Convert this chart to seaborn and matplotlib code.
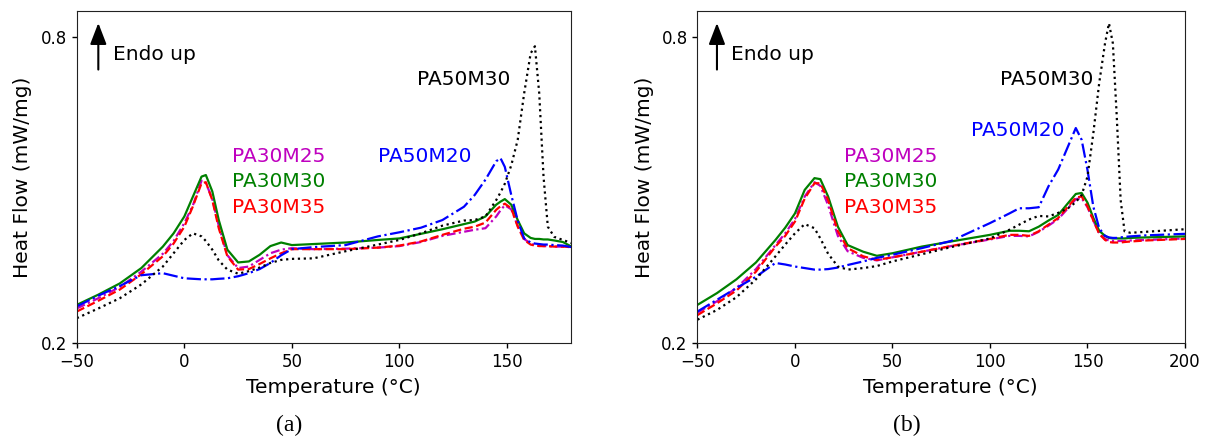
import pandas as pd
import matplotlib
matplotlib.use("Agg")
import matplotlib.pyplot as plt
import seaborn as sns

# Panel (a) - temperature grid (°C) and heat flow (mW/mg)
temp_a = [-50, -40, -30, -20, -10, -5, 0, 4, 8, 10, 13, 16, 20, 25, 30, 35, 40, 45, 50, 60,
          75, 90, 100, 110, 120, 130, 135, 140, 145, 147, 149, 152, 155, 158, 161, 163, 165,
          167, 169, 172, 176, 180]
pa30m25_a = [0.268, 0.288, 0.310, 0.340, 0.375, 0.400, 0.435, 0.470, 0.518, 0.514, 0.482, 0.430,
             0.372, 0.347, 0.350, 0.363, 0.376, 0.383, 0.386, 0.384, 0.385, 0.387, 0.390, 0.398,
             0.410, 0.418, 0.422, 0.425, 0.448, 0.460, 0.470, 0.462, 0.430, 0.404, 0.395, 0.392,
             0.391, 0.390, 0.390, 0.389, 0.389, 0.388]
pa30m30_a = [0.275, 0.295, 0.317, 0.347, 0.389, 0.415, 0.448, 0.487, 0.526, 0.529, 0.497, 0.441,
             0.383, 0.358, 0.360, 0.373, 0.390, 0.397, 0.392, 0.394, 0.397, 0.402, 0.405, 0.414,
             0.423, 0.433, 0.438, 0.448, 0.471, 0.477, 0.482, 0.471, 0.441, 0.415, 0.406, 0.404,
             0.404, 0.403, 0.403, 0.401, 0.398, 0.389]
pa30m35_a = [0.262, 0.283, 0.305, 0.335, 0.370, 0.395, 0.428, 0.468, 0.513, 0.515, 0.480, 0.425,
             0.370, 0.344, 0.345, 0.355, 0.366, 0.376, 0.384, 0.384, 0.384, 0.387, 0.391, 0.399,
             0.412, 0.424, 0.428, 0.436, 0.461, 0.468, 0.473, 0.464, 0.428, 0.402, 0.393, 0.391,
             0.390, 0.390, 0.390, 0.389, 0.389, 0.388]
pa50m20_a = [0.272, 0.293, 0.312, 0.333, 0.337, 0.332, 0.327, 0.326, 0.325, 0.325, 0.325, 0.326,
             0.327, 0.331, 0.337, 0.345, 0.357, 0.372, 0.384, 0.388, 0.392, 0.409, 0.417, 0.426,
             0.441, 0.467, 0.490, 0.520, 0.556, 0.562, 0.545, 0.490, 0.440, 0.405, 0.397, 0.395,
             0.394, 0.393, 0.393, 0.392, 0.391, 0.388]
pa50m30_a = [0.249, 0.268, 0.288, 0.315, 0.350, 0.376, 0.402, 0.415, 0.409, 0.400, 0.383, 0.362,
             0.344, 0.336, 0.341, 0.348, 0.357, 0.363, 0.365, 0.366, 0.380, 0.393, 0.402, 0.415,
             0.430, 0.440, 0.441, 0.448, 0.480, 0.495, 0.512, 0.548, 0.598, 0.689, 0.767, 0.781,
             0.689, 0.526, 0.428, 0.408, 0.402, 0.396]

# Panel (b)
temp_b = [-50, -40, -30, -20, -10, -5, 0, 5, 10, 13, 17, 22, 27, 35, 42, 50, 65, 80, 100, 110,
          115, 120, 125, 130, 135, 140, 144, 147, 150, 153, 156, 159, 161, 163, 165, 167, 169,
          172, 180, 200]
pa30m25_b = [0.260, 0.282, 0.308, 0.345, 0.392, 0.415, 0.443, 0.487, 0.515, 0.508, 0.470, 0.410,
             0.380, 0.367, 0.362, 0.368, 0.379, 0.390, 0.403, 0.410, 0.410, 0.409, 0.418, 0.430,
             0.443, 0.464, 0.482, 0.484, 0.466, 0.440, 0.415, 0.404, 0.401, 0.400, 0.400, 0.400,
             0.400, 0.401, 0.402, 0.405]
pa30m30_b = [0.275, 0.298, 0.325, 0.358, 0.402, 0.426, 0.454, 0.500, 0.523, 0.521, 0.487, 0.428,
             0.392, 0.379, 0.371, 0.376, 0.389, 0.399, 0.412, 0.420, 0.420, 0.419, 0.428, 0.440,
             0.451, 0.474, 0.492, 0.494, 0.475, 0.445, 0.420, 0.410, 0.406, 0.405, 0.405, 0.405,
             0.405, 0.406, 0.407, 0.409]
pa30m35_b = [0.255, 0.278, 0.303, 0.340, 0.389, 0.410, 0.438, 0.483, 0.513, 0.513, 0.480, 0.419,
             0.386, 0.370, 0.363, 0.368, 0.379, 0.390, 0.404, 0.412, 0.412, 0.410, 0.419, 0.432,
             0.445, 0.467, 0.485, 0.487, 0.468, 0.440, 0.414, 0.402, 0.398, 0.397, 0.397, 0.397,
             0.398, 0.399, 0.401, 0.404]
pa50m20_b = [0.262, 0.285, 0.308, 0.330, 0.357, 0.354, 0.350, 0.347, 0.344, 0.344, 0.345, 0.348,
             0.353, 0.360, 0.367, 0.373, 0.386, 0.400, 0.435, 0.454, 0.464, 0.464, 0.466, 0.507,
             0.540, 0.585, 0.621, 0.598, 0.539, 0.467, 0.425, 0.410, 0.407, 0.406, 0.406, 0.407,
             0.408, 0.409, 0.411, 0.414]
pa50m30_b = [0.246, 0.265, 0.290, 0.325, 0.370, 0.393, 0.415, 0.433, 0.425, 0.405, 0.375, 0.350,
             0.344, 0.347, 0.351, 0.360, 0.374, 0.388, 0.405, 0.422, 0.432, 0.442, 0.449, 0.448,
             0.455, 0.464, 0.476, 0.490, 0.526, 0.611, 0.709, 0.787, 0.826, 0.787, 0.644, 0.480,
             0.419, 0.416, 0.418, 0.423]

samples = ["PA30M25", "PA30M30", "PA30M35", "PA50M20", "PA50M30"]
colors = {"PA30M25": "m", "PA30M30": "g", "PA30M35": "r", "PA50M20": "b", "PA50M30": "k"}
dashes = {"PA30M25": (4, 1.5, 1, 1.5), "PA30M30": "", "PA30M35": (3.7, 1.6),
          "PA50M20": (6.4, 1.6, 1, 1.6), "PA50M30": (1, 1.65)}


def make_long(temp, series):
    df = pd.DataFrame({"T": temp})
    for name, vals in zip(samples, series):
        df[name] = vals
    return df.melt(id_vars="T", var_name="sample", value_name="HF")


df_a = make_long(temp_a, [pa30m25_a, pa30m30_a, pa30m35_a, pa50m20_a, pa50m30_a])
df_b = make_long(temp_b, [pa30m25_b, pa30m30_b, pa30m35_b, pa50m20_b, pa50m30_b])

sns.set_style("ticks")
plt.rcParams["font.family"] = ["DejaVu Sans"]
plt.rcParams.update({"text.color": "k", "axes.labelcolor": "k", "xtick.color": "k",
                     "ytick.color": "k", "axes.edgecolor": "#222222"})

fig = plt.figure(figsize=(12.29, 4.4), dpi=100)
ax1 = fig.add_axes([0.0625, 0.22, 0.4025, 0.755])
ax2 = fig.add_axes([0.5675, 0.22, 0.3967, 0.755])

# label positions: (x, y) in data coords, per panel
labels_a = {"PA50M30": (108, 0.715), "PA50M20": (90, 0.565), "PA30M25": (22, 0.565),
            "PA30M30": (22, 0.516), "PA30M35": (22, 0.466)}
labels_b = {"PA50M30": (105, 0.715), "PA50M20": (90.5, 0.616), "PA30M25": (25.3, 0.565),
            "PA30M30": (25.3, 0.516), "PA30M35": (25.3, 0.466)}

for ax, df, xmax, labs in [(ax1, df_a, 180, labels_a), (ax2, df_b, 200, labels_b)]:
    sns.lineplot(data=df, x="T", y="HF", hue="sample", style="sample", hue_order=samples,
                 style_order=samples, palette=colors, dashes=dashes, lw=1.6, ax=ax,
                 legend=False)
    ax.set_xlim(-50, xmax)
    ax.set_ylim(0.2, 0.85)
    ax.set_yticks([0.2, 0.8])
    ax.set_xticks(range(-50, xmax + 1, 50))
    ax.tick_params(labelsize=12, color="k", width=1)
    ax.set_xlabel("Temperature (°C)", fontsize=14.5)
    ax.set_ylabel("Heat Flow (mW/mg)", fontsize=14.5)
    ax.xaxis.set_label_coords(0.518, -0.105)
    ax.yaxis.set_label_coords(-0.09, 0.5)
    ax.annotate("", xy=(-40, 0.832), xytext=(-40, 0.73),
                arrowprops=dict(arrowstyle="-|>,head_width=0.25,head_length=0.65",
                                color="k", lw=1.5, mutation_scale=20))
    ax.text(-33, 0.764, "Endo up", fontsize=14.5, va="center", ha="left")
    for name, (lx, ly) in labs.items():
        ax.text(lx, ly, name, color=colors[name], fontsize=14.5, va="center", ha="left")

fig.text(0.235, 0.034, "(a)", family="Liberation Serif", fontsize=17, ha="center", va="center")
fig.text(0.738, 0.034, "(b)", family="Liberation Serif", fontsize=17, ha="center", va="center")

plt.savefig("out.png", dpi=100)
